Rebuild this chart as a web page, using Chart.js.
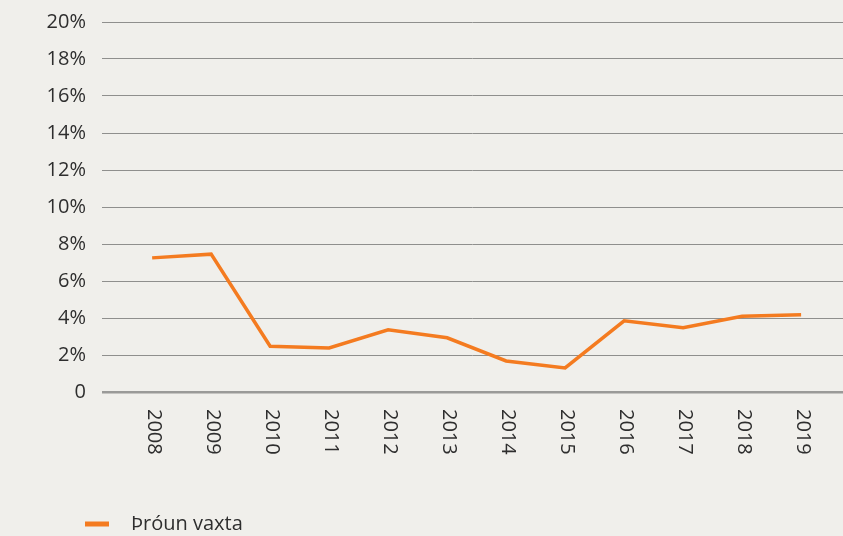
<!DOCTYPE html>
<html>
<head>
<meta charset="utf-8">
<script src="https://cdn.jsdelivr.net/npm/chart.js@4.4.1/dist/chart.umd.min.js"></script>
<style>
  html, body { margin: 0; padding: 0; background: #f0efeb; }
  #wrap { width: 843px; height: 536px; position: relative; }
</style>
</head>
<body>
<div id="wrap"><canvas id="c" width="843" height="536"></canvas></div>
<script>
const years = [2008, 2009, 2010, 2011, 2012, 2013, 2014, 2015, 2016, 2017, 2018, 2019];
const rates = [7.25, 7.45, 2.47, 2.38, 3.36, 2.93, 1.68, 1.30, 3.85, 3.47, 4.09, 4.17];
const seriesLabel = 'Þróun vaxta';
const yTicks = [0, 2, 4, 6, 8, 10, 12, 14, 16, 18, 20];

const FONT = '"Open Sans", sans-serif';
const TEXT = '#2e2e2e';
const ORANGE = '#f47b20';

const customDraw = {
  id: 'customDraw',
  afterDraw(chart) {
    const ctx = chart.ctx;
    const xs = chart.scales.x;
    const top = chart.chartArea.bottom + 17;
    ctx.save();
    ctx.fillStyle = TEXT;
    ctx.font = '20px ' + FONT;
    ctx.textAlign = 'left';
    ctx.textBaseline = 'middle';
    years.forEach(y => {
      const px = xs.getPixelForValue(y);
      ctx.save();
      ctx.translate(px + 2, top);
      ctx.rotate(Math.PI / 2);
      ctx.fillText(String(y), 0, 0);
      ctx.restore();
    });
    // legend
    const ly = 524;
    ctx.strokeStyle = ORANGE;
    ctx.lineWidth = 5;
    ctx.beginPath();
    ctx.moveTo(85, ly);
    ctx.lineTo(109, ly);
    ctx.stroke();
    ctx.fillStyle = TEXT;
    ctx.textBaseline = 'middle';
    ctx.fillText(chart.data.datasets[0].label, 131, ly);
    ctx.restore();
  }
};

new Chart(document.getElementById('c'), {
  type: 'line',
  data: {
    datasets: [{
      label: seriesLabel,
      data: years.map((y, i) => ({ x: y, y: rates[i] })),
      borderColor: ORANGE,
      backgroundColor: ORANGE,
      borderWidth: 3.5,
      pointRadius: 0,
      tension: 0,
      fill: false
    }]
  },
  options: {
    responsive: false,
    animation: false,
    layout: { padding: { top: 22, right: 0, bottom: 0, left: 0 } },
    plugins: { legend: { display: false }, tooltip: { enabled: false } },
    scales: {
      x: {
        type: 'linear',
        min: 2007.15,
        max: 2019.71,
        grid: { display: false },
        border: { display: false },
        ticks: { display: false },
        afterFit(s) { s.height = 144; s.paddingLeft = 0; s.paddingRight = 0; }
      },
      y: {
        min: 0,
        max: 20,
        afterBuildTicks(s) { s.ticks = yTicks.map(v => ({ value: v })); },
        grid: {
          drawTicks: false,
          color: ctx => ctx.tick && ctx.tick.value === 0 ? '#9a9a98' : '#8f8f8d',
          lineWidth: ctx => ctx.tick && ctx.tick.value === 0 ? 2.5 : 1
        },
        border: { display: false },
        ticks: {
          padding: 16,
          color: TEXT,
          font: { family: FONT, size: 20 },
          callback: v => v === 0 ? '0' : v + '%'
        },
        afterFit(s) { s.width = 102; s.paddingTop = 0; s.paddingBottom = 0; }
      }
    }
  },
  plugins: [customDraw]
});
</script>
</body>
</html>
